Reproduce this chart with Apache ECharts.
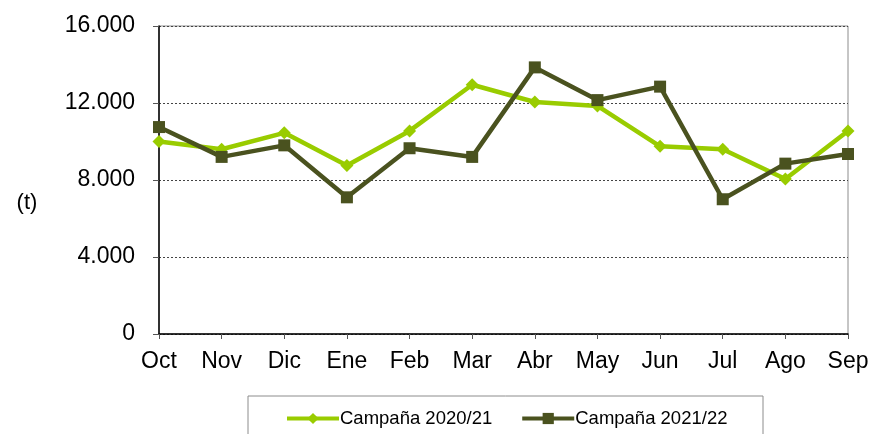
<!DOCTYPE html>
<html>
<head>
<meta charset="utf-8">
<script src="https://cdn.jsdelivr.net/npm/echarts@6/dist/echarts.min.js"></script>
<style>
  html, body { margin: 0; padding: 0; background: #fff; }
  #chart { width: 872px; height: 434px; }
</style>
</head>
<body>
<div id="chart"></div>
<script>
const months = ["Oct", "Nov", "Dic", "Ene", "Feb", "Mar", "Abr", "May", "Jun", "Jul", "Ago", "Sep"];
const campana2021 = [10000, 9600, 10450, 8750, 10550, 12950, 12050, 11850, 9750, 9600, 8050, 10550];
const campana2122 = [10750, 9200, 9800, 7100, 9650, 9200, 13850, 12150, 12850, 7000, 8850, 9350];
const seriesNames = ["Campaña 2020/21", "Campaña 2021/22"];
const unitLabel = "(t)";

const font = "Arial, 'Liberation Sans', sans-serif";
const lightGreen = "#99cc00";
const darkGreen = "#4a521f";

const chart = echarts.init(document.getElementById("chart"));
chart.setOption({
  animation: false,
  grid: {
    left: 159, right: 24, top: 26, bottom: 100,
    show: true, borderColor: "#8c8c8c", borderWidth: 1
  },
  xAxis: {
    type: "category",
    data: months,
    boundaryGap: false,
    axisLine: { lineStyle: { color: "#000", width: 1.5 } },
    axisTick: { show: true, alignWithLabel: true, length: 5, lineStyle: { color: "#555" } },
    axisLabel: { color: "#000", fontSize: 23, fontFamily: font, margin: 16 },
    splitLine: { show: false }
  },
  yAxis: {
    type: "value",
    min: 0, max: 16000, interval: 4000,
    axisLine: { show: true, lineStyle: { color: "#000", width: 1.5 } },
    axisTick: { show: true, length: 6, lineStyle: { color: "#555" } },
    axisLabel: {
      color: "#000", fontSize: 23, fontFamily: font, margin: 24,
      formatter: v => v.toLocaleString("de-DE")
    },
    splitLine: { show: true, lineStyle: { color: "#444", type: [2, 2], width: 1 } }
  },
  legend: {
    left: 280, top: 404,
    itemWidth: 52, itemHeight: 14, itemGap: 28,
    lineStyle: { width: 4 },
    textStyle: { color: "#000", fontSize: 18.5, fontFamily: font, padding: [0, 0, 0, -4] },
    data: seriesNames
  },
  graphic: [
    {
      type: "rect",
      shape: { x: 248, y: 396, width: 515, height: 50 },
      style: { fill: "none", stroke: "#8c8c8c", lineWidth: 1 },
      silent: true
    },
    {
      type: "text",
      x: 27, y: 203,
      style: {
        text: unitLabel, fill: "#000", font: "22px " + font,
        align: "center", verticalAlign: "middle"
      },
      silent: true
    }
  ],
  series: [
    {
      name: seriesNames[0],
      type: "line",
      data: campana2021,
      symbol: "diamond",
      symbolSize: 13,
      itemStyle: { color: lightGreen },
      lineStyle: { color: lightGreen, width: 4.5 }
    },
    {
      name: seriesNames[1],
      type: "line",
      data: campana2122,
      symbol: "rect",
      symbolSize: 12,
      itemStyle: { color: darkGreen },
      lineStyle: { color: darkGreen, width: 4.5 }
    }
  ]
});
</script>
</body>
</html>
